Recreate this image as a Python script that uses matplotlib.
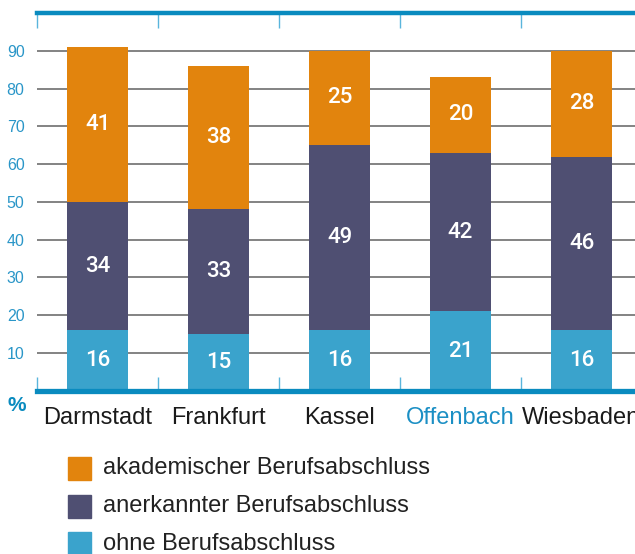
import matplotlib.pyplot as plt
from matplotlib.patches import Rectangle

plt.rcParams['font.family'] = ['Liberation Sans', 'DejaVu Sans']

# Data
cities = ['Darmstadt', 'Frankfurt', 'Kassel', 'Offenbach', 'Wiesbaden']
ohne = [16, 15, 16, 21, 16]
anerkannt = [34, 33, 49, 42, 46]
akademisch = [41, 38, 25, 20, 28]
labels = ['akademischer Berufsabschluss', 'anerkannter Berufsabschluss', 'ohne Berufsabschluss']

c_orange = '#e2840d'
c_purple = '#4f4f72'
c_light = '#3aa3cc'
c_line = '#0a8bbf'
c_text_blue = '#2a96c8'

fig = plt.figure(figsize=(6.35, 5.54), dpi=100)
ax = fig.add_axes([37 / 635, (554 - 390.75) / 554, 605 / 635, 377.75 / 554])

x = list(range(len(cities)))
w = 0.5
bottom2 = [a for a in ohne]
bottom3 = [a + b for a, b in zip(ohne, anerkannt)]

ax.bar(x, ohne, w, color=c_light, zorder=3)
ax.bar(x, anerkannt, w, bottom=bottom2, color=c_purple, zorder=3)
ax.bar(x, akademisch, w, bottom=bottom3, color=c_orange, zorder=3)

for i in x:
    for val, b in [(ohne[i], 0), (anerkannt[i], bottom2[i]), (akademisch[i], bottom3[i])]:
        ax.text(i, b + val / 2, str(val), ha='center', va='center', color='white',
                fontsize=16, fontweight='medium', family=['Roboto', 'DejaVu Sans'], zorder=4)

ax.set_xlim(-0.5, 4.5)
ax.set_ylim(0, 100)
ax.set_yticks(range(10, 100, 10))
ax.set_xticks(x)
ax.set_xticklabels(cities, fontsize=17, color='#1a1a1a')
ax.get_xticklabels()[3].set_color('#1b8fc4')
ax.tick_params(axis='y', length=0, pad=9, labelsize=11.5, labelcolor=c_text_blue)
ax.tick_params(axis='x', length=0, pad=12)

for s in ax.spines.values():
    s.set_visible(False)

for v in range(10, 100, 10):
    ax.axhline(v, color='#6e6e6e', lw=1.2, zorder=1)

ax.axhline(100, color=c_line, lw=3.2, zorder=5, clip_on=False)
ax.axhline(0, color=c_line, lw=3.8, zorder=5, clip_on=False)

seps = [i - 0.5 for i in x]
ax.vlines(seps, 96, 100, color='#5ab5dc', lw=1, zorder=4, clip_on=False)
ax.vlines(seps, 0, 3.6, color='#5ab5dc', lw=1, zorder=4, clip_on=False)

fig.text(8 / 635, 1 - 411 / 554, '%', color=c_line, fontsize=15, fontweight='bold')

# Legend
colors = [c_orange, c_purple, c_light]
ys = [457, 495, 532]
for col, lab, yy in zip(colors, labels, ys):
    fig.patches.append(Rectangle((68 / 635, 1 - (yy + 23) / 554), 23 / 635, 23 / 554,
                                 transform=fig.transFigure, color=col))
    fig.text(103 / 635, 1 - (yy + 11.5) / 554, lab, fontsize=17, color='#222222', va='center')

fig.savefig('out.png', dpi=100)
